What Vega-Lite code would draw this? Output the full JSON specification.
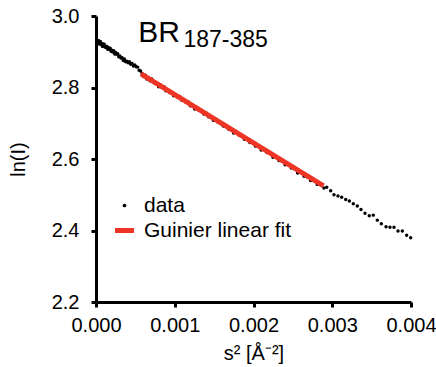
{
  "$schema": "https://vega.github.io/schema/vega-lite/v6.json",
  "width": 315,
  "height": 286,
  "autosize": {"type": "none"},
  "padding": {"left": 96, "top": 16, "right": 25, "bottom": 65},
  "background": "white",
  "config": {
    "view": {"stroke": null},
    "font": "Liberation Sans",
    "axis": {
      "domainColor": "black", "domainWidth": 3, "tickColor": "black", "tickWidth": 3, "tickSize": 5,
      "labelFont": "Liberation Sans", "labelFontSize": 20, "labelColor": "black",
      "titleFont": "Liberation Sans", "titleFontSize": 20, "titleFontWeight": "normal", "titleColor": "black",
      "grid": false
    }
  },
  "datasets": {
    "pts": [
      {"s2": 0.0000250, "lnI": 2.931}, {"s2": 0.0000292, "lnI": 2.926}, {"s2": 0.0000336, "lnI": 2.931}, {"s2": 0.0000384, "lnI": 2.922},
      {"s2": 0.0000436, "lnI": 2.926}, {"s2": 0.0000490, "lnI": 2.922}, {"s2": 0.0000548, "lnI": 2.929}, {"s2": 0.0000608, "lnI": 2.923},
      {"s2": 0.0000672, "lnI": 2.920}, {"s2": 0.0000740, "lnI": 2.923}, {"s2": 0.0000810, "lnI": 2.915}, {"s2": 0.0000884, "lnI": 2.922},
      {"s2": 0.0000960, "lnI": 2.917}, {"s2": 0.0001040, "lnI": 2.921}, {"s2": 0.0001124, "lnI": 2.913}, {"s2": 0.0001210, "lnI": 2.9155},
      {"s2": 0.0001300, "lnI": 2.9115}, {"s2": 0.0001392, "lnI": 2.915}, {"s2": 0.0001488, "lnI": 2.907}, {"s2": 0.0001588, "lnI": 2.9115},
      {"s2": 0.0001690, "lnI": 2.907}, {"s2": 0.0001796, "lnI": 2.9095}, {"s2": 0.0001904, "lnI": 2.9015}, {"s2": 0.0002016, "lnI": 2.904},
      {"s2": 0.0002132, "lnI": 2.899}, {"s2": 0.0002250, "lnI": 2.9025}, {"s2": 0.0002372, "lnI": 2.894}, {"s2": 0.0002496, "lnI": 2.898},
      {"s2": 0.0002624, "lnI": 2.893}, {"s2": 0.0002756, "lnI": 2.8945}, {"s2": 0.0002890, "lnI": 2.886}, {"s2": 0.0003028, "lnI": 2.8885},
      {"s2": 0.0003168, "lnI": 2.8825}, {"s2": 0.0003312, "lnI": 2.883}, {"s2": 0.0003460, "lnI": 2.8755}, {"s2": 0.0003610, "lnI": 2.8795},
      {"s2": 0.0003764, "lnI": 2.872}, {"s2": 0.0003920, "lnI": 2.8735}, {"s2": 0.0004080, "lnI": 2.869}, {"s2": 0.0004244, "lnI": 2.872},
      {"s2": 0.0004410, "lnI": 2.865}, {"s2": 0.0004580, "lnI": 2.8675}, {"s2": 0.0004752, "lnI": 2.860}, {"s2": 0.0004928, "lnI": 2.863},
      {"s2": 0.0005108, "lnI": 2.858}, {"s2": 0.0005290, "lnI": 2.857}, {"s2": 0.0005476, "lnI": 2.848}, {"s2": 0.0005664, "lnI": 2.846},
      {"s2": 0.0005856, "lnI": 2.839}, {"s2": 0.0006052, "lnI": 2.831}, {"s2": 0.0006250, "lnI": 2.834}, {"s2": 0.0006452, "lnI": 2.824},
      {"s2": 0.0006656, "lnI": 2.826}, {"s2": 0.0006864, "lnI": 2.819}, {"s2": 0.0007076, "lnI": 2.824}, {"s2": 0.0007290, "lnI": 2.816},
      {"s2": 0.0007508, "lnI": 2.811}, {"s2": 0.0007728, "lnI": 2.812}, {"s2": 0.0007952, "lnI": 2.802}, {"s2": 0.0008180, "lnI": 2.807},
      {"s2": 0.0008410, "lnI": 2.800}, {"s2": 0.0008644, "lnI": 2.802}, {"s2": 0.0008880, "lnI": 2.791}, {"s2": 0.0009120, "lnI": 2.792},
      {"s2": 0.0009364, "lnI": 2.786}, {"s2": 0.0009610, "lnI": 2.787}, {"s2": 0.0009860, "lnI": 2.777}, {"s2": 0.0010112, "lnI": 2.780},
      {"s2": 0.0010368, "lnI": 2.773}, {"s2": 0.0010628, "lnI": 2.774}, {"s2": 0.0010890, "lnI": 2.764}, {"s2": 0.0011156, "lnI": 2.765},
      {"s2": 0.0011424, "lnI": 2.759}, {"s2": 0.0011696, "lnI": 2.760}, {"s2": 0.0011972, "lnI": 2.749}, {"s2": 0.0012250, "lnI": 2.750},
      {"s2": 0.0012532, "lnI": 2.740}, {"s2": 0.0012816, "lnI": 2.744}, {"s2": 0.0013104, "lnI": 2.736}, {"s2": 0.0013396, "lnI": 2.735},
      {"s2": 0.0013690, "lnI": 2.726}, {"s2": 0.0013988, "lnI": 2.729}, {"s2": 0.0014288, "lnI": 2.718}, {"s2": 0.0014592, "lnI": 2.717},
      {"s2": 0.0014900, "lnI": 2.708}, {"s2": 0.0015210, "lnI": 2.711}, {"s2": 0.0015524, "lnI": 2.702}, {"s2": 0.0015840, "lnI": 2.701},
      {"s2": 0.0016160, "lnI": 2.692}, {"s2": 0.0016484, "lnI": 2.694}, {"s2": 0.0016810, "lnI": 2.684}, {"s2": 0.0017140, "lnI": 2.682},
      {"s2": 0.0017472, "lnI": 2.673}, {"s2": 0.0017808, "lnI": 2.675}, {"s2": 0.0018148, "lnI": 2.667}, {"s2": 0.0018490, "lnI": 2.665},
      {"s2": 0.0018836, "lnI": 2.655}, {"s2": 0.0019184, "lnI": 2.657}, {"s2": 0.0019536, "lnI": 2.646}, {"s2": 0.0019892, "lnI": 2.646},
      {"s2": 0.0020250, "lnI": 2.636}, {"s2": 0.0020612, "lnI": 2.635}, {"s2": 0.0020976, "lnI": 2.625}, {"s2": 0.0021344, "lnI": 2.627},
      {"s2": 0.0021716, "lnI": 2.618}, {"s2": 0.0022090, "lnI": 2.616}, {"s2": 0.0022468, "lnI": 2.605}, {"s2": 0.0022848, "lnI": 2.607},
      {"s2": 0.0023232, "lnI": 2.596}, {"s2": 0.0023620, "lnI": 2.594}, {"s2": 0.0024010, "lnI": 2.584}, {"s2": 0.0024404, "lnI": 2.585},
      {"s2": 0.0024800, "lnI": 2.575}, {"s2": 0.0025200, "lnI": 2.573}, {"s2": 0.0025604, "lnI": 2.561}, {"s2": 0.0026010, "lnI": 2.563},
      {"s2": 0.0026420, "lnI": 2.552}, {"s2": 0.0026832, "lnI": 2.550}, {"s2": 0.0027248, "lnI": 2.540}, {"s2": 0.0027668, "lnI": 2.540},
      {"s2": 0.0028090, "lnI": 2.529}, {"s2": 0.0028516, "lnI": 2.528}, {"s2": 0.0028944, "lnI": 2.519},
      {"s2": 0.002930, "lnI": 2.521}, {"s2": 0.002980, "lnI": 2.511}, {"s2": 0.003022, "lnI": 2.500}, {"s2": 0.003073, "lnI": 2.4965},
      {"s2": 0.003120, "lnI": 2.493}, {"s2": 0.003171, "lnI": 2.487}, {"s2": 0.003217, "lnI": 2.4825}, {"s2": 0.003267, "lnI": 2.475},
      {"s2": 0.003318, "lnI": 2.4685}, {"s2": 0.003365, "lnI": 2.459}, {"s2": 0.003416, "lnI": 2.448}, {"s2": 0.003470, "lnI": 2.441},
      {"s2": 0.003521, "lnI": 2.443}, {"s2": 0.003572, "lnI": 2.429}, {"s2": 0.003623, "lnI": 2.419}, {"s2": 0.003683, "lnI": 2.4105},
      {"s2": 0.003733, "lnI": 2.409}, {"s2": 0.003784, "lnI": 2.409}, {"s2": 0.003835, "lnI": 2.3985}, {"s2": 0.003890, "lnI": 2.3985},
      {"s2": 0.003945, "lnI": 2.387}, {"s2": 0.003996, "lnI": 2.380}
    ],
    "fit": [
      {"s2": 0.000571, "lnI": 2.8378},
      {"s2": 0.002889, "lnI": 2.5245}
    ]
  },
  "layer": [
    {
      "data": {"name": "pts"},
      "mark": {"type": "circle", "size": 12, "opacity": 1},
      "encoding": {
        "x": {"field": "s2", "type": "quantitative",
          "scale": {"domain": [0, 0.004], "nice": false, "zero": false},
          "axis": {"title": "s² [Å⁻²]", "values": [0, 0.001, 0.002, 0.003, 0.004], "format": ".3f", "labelPadding": 8, "titlePadding": 8, "labelDx": -3, "labelFlush": false}},
        "y": {"field": "lnI", "type": "quantitative",
          "scale": {"domain": [2.2, 3.0], "nice": false, "zero": false},
          "axis": {"title": "ln(I)", "values": [2.2, 2.4, 2.6, 2.8, 3.0], "format": ".1f", "labelPadding": 12, "titlePadding": 23}},
        "color": {"datum": "data", "type": "nominal",
          "scale": {"domain": ["data", "Guinier linear fit"], "range": ["black", "#ee3424"]},
          "legend": {
            "orient": "none", "legendX": 18, "legendY": 179, "title": null,
            "labelFont": "Liberation Sans", "labelFontSize": 21, "labelColor": "black", "labelLimit": 400,
            "labelOffset": 9, "rowPadding": 3, "symbolSize": 361,
            "encode": {"symbols": {"update": {
              "shape": {"signal": "datum.value === 'data' ? 'circle' : 'stroke'"},
              "size": {"signal": "datum.value === 'data' ? 14 : 361"},
              "strokeWidth": {"signal": "datum.value === 'data' ? 0 : 5"},
              "fill": {"signal": "datum.value === 'data' ? 'black' : 'transparent'"},
              "stroke": {"signal": "datum.value === 'data' ? 'transparent' : '#ee3424'"},
              "opacity": {"value": 1}, "fillOpacity": {"value": 1}, "strokeOpacity": {"value": 1}
            }}}
          }}
      }
    },
    {
      "data": {"name": "fit"},
      "mark": {"type": "line", "strokeWidth": 5, "strokeCap": "butt"},
      "encoding": {
        "x": {"field": "s2", "type": "quantitative"},
        "y": {"field": "lnI", "type": "quantitative"},
        "color": {"datum": "Guinier linear fit", "type": "nominal",
          "legend": {
            "orient": "none", "legendX": 18, "legendY": 179, "title": null,
            "labelFont": "Liberation Sans", "labelFontSize": 21, "labelColor": "black", "labelLimit": 400,
            "labelOffset": 9, "rowPadding": 3, "symbolSize": 361,
            "encode": {"symbols": {"update": {
              "shape": {"signal": "datum.value === 'data' ? 'circle' : 'stroke'"},
              "size": {"signal": "datum.value === 'data' ? 14 : 361"},
              "strokeWidth": {"signal": "datum.value === 'data' ? 0 : 5"},
              "fill": {"signal": "datum.value === 'data' ? 'black' : 'transparent'"},
              "stroke": {"signal": "datum.value === 'data' ? 'transparent' : '#ee3424'"},
              "opacity": {"value": 1}, "fillOpacity": {"value": 1}, "strokeOpacity": {"value": 1}
            }}}
          }}
      }
    },
    {
      "data": {"values": [{}]},
      "mark": {"type": "text", "text": "BR", "fontSize": 30, "font": "Liberation Sans", "align": "left", "baseline": "alphabetic", "color": "black"},
      "encoding": {"x": {"datum": 0.000535}, "y": {"datum": 2.928}}
    },
    {
      "data": {"values": [{}]},
      "mark": {"type": "text", "text": "187-385", "fontSize": 23, "font": "Liberation Sans", "align": "left", "baseline": "alphabetic", "color": "black"},
      "encoding": {"x": {"datum": 0.00111}, "y": {"datum": 2.9141}}
    }
  ]
}
